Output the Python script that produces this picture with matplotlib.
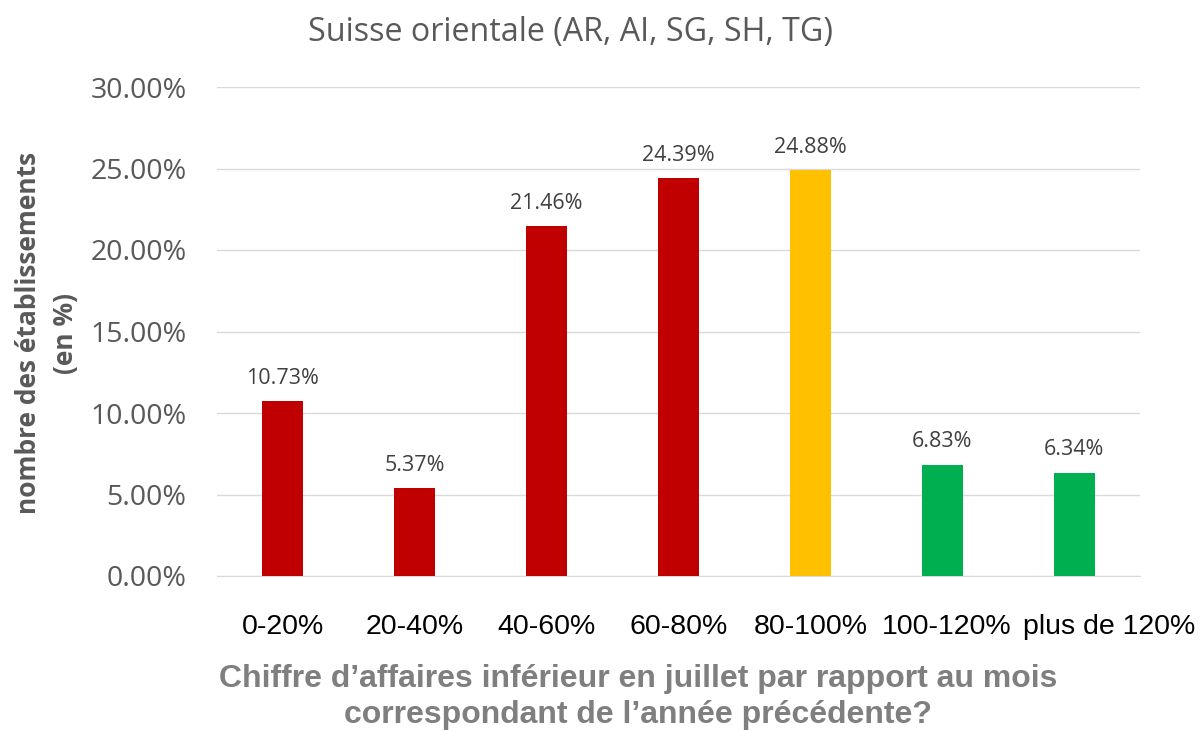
import matplotlib
matplotlib.use("Agg")
import matplotlib.pyplot as plt
import matplotlib.transforms as mtransforms
from matplotlib.ticker import FuncFormatter

categories = ["0-20%", "20-40%", "40-60%", "60-80%", "80-100%", "100-120%", "plus de 120%"]
values = [10.73, 5.37, 21.46, 24.39, 24.88, 6.83, 6.34]
colors = ["#C00000", "#C00000", "#C00000", "#C00000", "#FFC000", "#00B050", "#00B050"]

plt.rcParams['font.family'] = ['Open Sans', 'DejaVu Sans']
fig = plt.figure(figsize=(12.04, 7.31), dpi=100)
ax = fig.add_axes([217/1204, 1-576/731, (1140-217)/1204, (576-87)/731])

x = range(len(categories))
bars = ax.bar(x, values, width=0.31, color=colors, zorder=3)
for xi, v in zip(x, values):
    ax.text(xi, v + 0.75, f"{v:.2f}%", ha="center", va="bottom", fontsize=15.5, color="#404040")

ax.set_ylim(0, 30)
ax.set_xlim(-0.5, len(categories) - 0.5)
ax.set_yticks([0, 5, 10, 15, 20, 25, 30])
ax.yaxis.set_major_formatter(FuncFormatter(lambda v, p: f"{v:.2f}%"))
ax.set_xticks(list(x))
ax.set_xticklabels(categories, family="Liberation Sans")
ax.tick_params(axis='both', length=0, colors="#000000")
ax.tick_params(axis='y', pad=22, labelcolor="#595959", labelsize=20.5)
ax.tick_params(axis='x', pad=27, labelsize=20.5)
ax.grid(axis='y', color="#D9D9D9", linewidth=1, zorder=0)
for s in ["top", "right", "left"]:
    ax.spines[s].set_visible(False)
ax.spines["bottom"].set_color("#D9D9D9")

# Excel nudges crowded end labels sideways
xlabels = ax.get_xticklabels()
shifts = {5: 4, 6: 35}
for i, dx in shifts.items():
    lab = xlabels[i]
    lab.set_transform(lab.get_transform() + mtransforms.ScaledTranslation(dx / 100, 0, fig.dpi_scale_trans))

fig.text(570/1204, 1-33/731, "Suisse orientale (AR, AI, SG, SH, TG)", ha="center", va="center",
         fontsize=23.2, color="#595959")
fig.text(638/1204, 1-697/731, "Chiffre d\u2019affaires inférieur en juillet par rapport au mois\ncorrespondant de l\u2019année précédente?",
         ha="center", va="center", fontsize=23, fontweight="bold", color="#7F7F7F",
         family="Liberation Sans", linespacing=1.27)
fig.text(47/1204, 1-333/731, "nombre des établissements\n(en %)", ha="center", va="center", rotation=90,
         fontsize=19, fontweight="bold", color="#595959", linespacing=1.45)

fig.savefig("out.png", dpi=100)
